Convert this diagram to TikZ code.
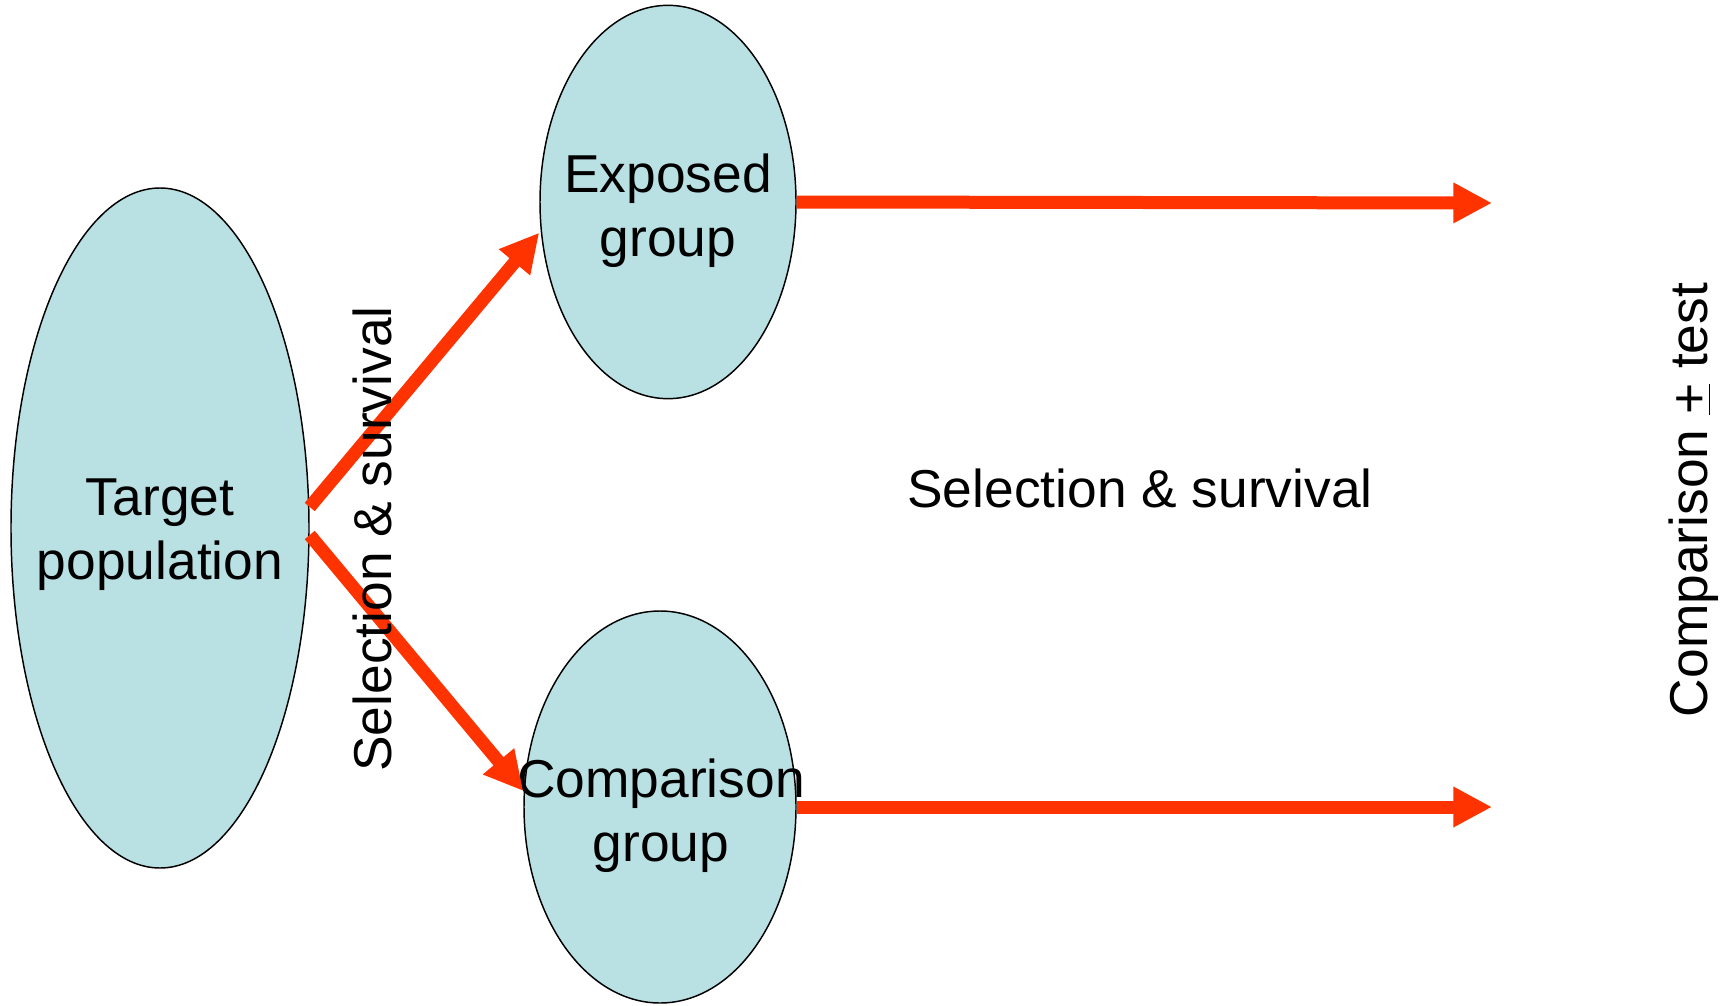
\documentclass[tikz,border=0pt]{standalone}
\usepackage{fontspec}
\setmainfont{Liberation Sans}
\usetikzlibrary{arrows.meta,shapes.geometric}
\definecolor{arrowred}{RGB}{255,51,0}
\definecolor{bluefill}{RGB}{185,224,227}
\begin{document}
\begin{tikzpicture}[x=0.75pt,y=-0.75pt,
  grp/.style={ellipse,draw=black,line width=1.1pt,fill=bluefill,inner sep=0pt},
  grptext/.style={inner sep=0pt,align=center,font=\fontsize{40pt}{48pt}\selectfont},
  bigarrow/.style={draw=arrowred,line width=9.75pt,
    -{Triangle[length=29pt,width=28.5pt]}},
  lbl/.style={inner sep=0pt,font=\fontsize{40pt}{48pt}\selectfont}]
\useasboundingbox[fill=white] (0,0) rectangle (1727,1006);
\node[grp,minimum width=223.5pt,minimum height=510pt] (t) at (160,528) {};
\node[grp,minimum width=192pt,minimum height=295pt] (e) at (668,202) {};
\node[grp,minimum width=204pt,minimum height=294pt] (c) at (660,807) {};
\node[grptext] (tl) at (160,535) {Target\\population};
\node[grptext] (el) at (668,211) {Exposed\\group};
\node[grptext] (cl) at (661,816) {Comparison\\group};
\coordinate (e2) at (1492,203);
\coordinate (c2) at (1492,807);
\draw[bigarrow] ([yshift=15.75pt]t.east) -- ([yshift=-23pt]e.west);
\draw[bigarrow] ([yshift=-5.25pt]t.east) -- ([yshift=12pt]c.west);
\draw[bigarrow] (e.east) -- (e2);
\draw[bigarrow] (c.east) -- (c2);
\node[lbl,rotate=90] (s1) at (372,539) {Selection \& survival};
\node[lbl] (s2) at (1140,488) {Selection \& survival};
\node[lbl,rotate=90,anchor=base] (ct) at (1707,500) {Comparison \underline{+} test};
\end{tikzpicture}
\end{document}
